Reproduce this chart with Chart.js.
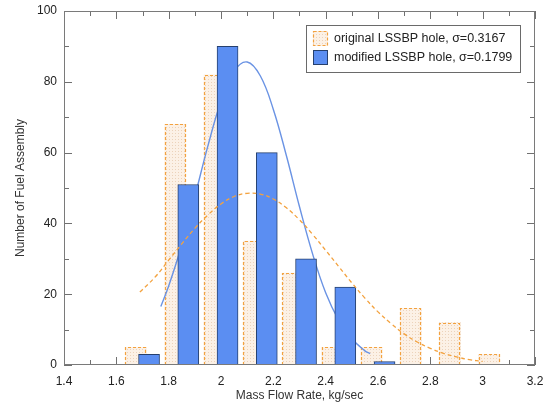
<!DOCTYPE html>
<html><head><meta charset="utf-8">
<script src="https://cdn.jsdelivr.net/npm/chart.js@4.4.1/dist/chart.umd.min.js"></script>
<style>html,body{margin:0;padding:0;background:#fff}#wrap{width:548px;height:405px}</style>
</head><body><div id="wrap"><canvas id="c" width="548" height="405"></canvas></div>
<script>
// ---- data ----
const originalCenters = [1.675, 1.825, 1.975, 2.125, 2.275, 2.425, 2.575, 2.725, 2.875, 3.025];
const originalCounts  = [5, 68, 82, 35, 26, 5, 5, 16, 12, 3];
const modifiedCenters = [1.725, 1.875, 2.025, 2.175, 2.325, 2.475, 2.625];
const modifiedCounts  = [3, 51, 90, 60, 30, 22, 1];
const originalFitX = [1.69, 1.75, 1.80, 1.85, 1.90, 1.95, 2.00, 2.05, 2.10, 2.15, 2.20, 2.25, 2.30, 2.35, 2.40, 2.45, 2.50, 2.55, 2.60, 2.65, 2.70, 2.75, 2.80, 2.85, 2.90, 2.95, 3.00];
const originalFitY = [20.6, 25.0, 29.6, 34.2, 38.6, 42.4, 45.5, 47.6, 48.5, 48.3, 46.9, 44.4, 41.0, 36.9, 32.4, 27.8, 23.2, 18.9, 15.0, 11.7, 8.8, 6.5, 4.7, 3.3, 2.3, 1.5, 1.0];
const modifiedFitX = [1.77, 1.80, 1.85, 1.90, 1.95, 2.00, 2.05, 2.10, 2.15, 2.20, 2.25, 2.30, 2.35, 2.40, 2.45, 2.50, 2.55, 2.57];
const modifiedFitY = [16.5, 22.3, 33.9, 47.6, 61.9, 74.5, 83.0, 85.6, 81.7, 72.2, 59.1, 44.7, 31.4, 20.4, 12.6, 7.4, 4.0, 3.2];
const seriesLabels = ['original LSSBP hole, \u03c3=0.3167', 'modified LSSBP hole, \u03c3=0.1799'];
const xTitle = 'Mass Flow Rate, kg/sec';
const yTitle = 'Number of Fuel Assembly';
const xRange = [1.4, 3.2];
const yRange = [0, 100];

const FONT = '"Liberation Sans", Arial, sans-serif';
const ORANGE = '#f3a23f';
const BLUE_FILL = '#5b8ef2';
const BLUE_EDGE = '#26406e';
const BLUE_LINE = '#6a93e4';

const canvas = document.getElementById('c');
const ctx0 = canvas.getContext('2d');
function dotPattern() {
  const c = document.createElement('canvas'); c.width = 3; c.height = 3;
  const g = c.getContext('2d');
  g.fillStyle = '#fcf1e6'; g.fillRect(0, 0, 3, 3);
  g.fillStyle = '#ecd3bb'; g.fillRect(1, 1, 1, 1);
  return ctx0.createPattern(c, 'repeat');
}
const peach = dotPattern();

const pts = (xs, ys) => xs.map((x, i) => ({x: x, y: ys[i]}));

const dashedBars = {
  id: 'dashedBars',
  afterDatasetDraw(chart, args) {
    if (args.index !== 0) return;
    const ctx = chart.ctx;
    ctx.save();
    ctx.strokeStyle = ORANGE; ctx.lineWidth = 1.2; ctx.setLineDash([3, 2]);
    args.meta.data.forEach(el => {
      const p = el.getProps(['x', 'y', 'base', 'width'], true);
      const l = Math.round(p.x - p.width / 2) + 0.5, r = Math.round(p.x + p.width / 2) - 0.5;
      const t = Math.round(p.y) + 0.5, b = p.base;
      ctx.beginPath(); ctx.moveTo(l, b); ctx.lineTo(l, t); ctx.lineTo(r, t); ctx.lineTo(r, b); ctx.stroke();
    });
    ctx.restore();
  }
};

const frameTicks = {
  id: 'frameTicks',
  beforeDatasetsDraw(chart) {
    const {ctx, chartArea: a, scales: {x, y}} = chart;
    ctx.save();
    ctx.strokeStyle = '#707070'; ctx.lineWidth = 1;
    ctx.beginPath();
    x.ticks.forEach(t => {
      const px = Math.round(x.getPixelForValue(t.value)) + 0.5;
      const len = Math.round(t.value * 10) % 2 === 0 ? 8 : 5;
      ctx.moveTo(px, a.bottom); ctx.lineTo(px, a.bottom - len);
      ctx.moveTo(px, a.top); ctx.lineTo(px, a.top + len);
    });
    y.ticks.forEach(t => {
      const py = Math.round(y.getPixelForValue(t.value)) + 0.5;
      const len = Math.round(t.value) % 20 === 0 ? 8 : 5;
      ctx.moveTo(a.left, py); ctx.lineTo(a.left + len, py);
      ctx.moveTo(a.right, py); ctx.lineTo(a.right - len, py);
    });
    ctx.stroke();
    ctx.restore();
  },
  afterDatasetsDraw(chart) {
    const {ctx, chartArea: a} = chart;
    ctx.save();
    ctx.strokeStyle = '#7a7a7a'; ctx.lineWidth = 1;
    ctx.strokeRect(Math.round(a.left) + 0.5, Math.round(a.top) + 0.5,
                   Math.round(a.right - a.left) - 1, Math.round(a.bottom - a.top) - 1);
    // legend box
    const bx = 306.5, by = 25.5, bw = 214, bh = 47;
    ctx.fillStyle = '#ffffff'; ctx.fillRect(bx, by, bw, bh);
    ctx.strokeStyle = '#6a6a6a'; ctx.strokeRect(bx, by, bw, bh);
    // swatch 1
    ctx.fillStyle = peach; ctx.fillRect(313, 31, 15, 15);
    ctx.strokeStyle = ORANGE; ctx.lineWidth = 1.2; ctx.setLineDash([3, 2]);
    ctx.strokeRect(313.5, 31.5, 14, 14);
    ctx.setLineDash([]);
    // swatch 2
    ctx.fillStyle = BLUE_FILL; ctx.fillRect(313, 50, 15, 15);
    ctx.strokeStyle = BLUE_EDGE; ctx.lineWidth = 1; ctx.strokeRect(313.5, 50.5, 14, 14);
    ctx.fillStyle = '#222'; ctx.font = '12.5px ' + FONT; ctx.textBaseline = 'middle'; ctx.textAlign = 'left';
    ctx.fillText(chart.data.datasets[0].label, 334, 39);
    ctx.fillText(chart.data.datasets[1].label, 334, 58);
    ctx.restore();
  }
};

new Chart(canvas, {
  type: 'bar',
  data: {
    datasets: [
      {label: seriesLabels[0], data: pts(originalCenters, originalCounts), backgroundColor: peach,
       borderWidth: 0, barThickness: 21, grouped: false, order: 4},
      {label: seriesLabels[1], data: pts(modifiedCenters, modifiedCounts), backgroundColor: BLUE_FILL,
       borderColor: BLUE_EDGE, borderWidth: 1, borderSkipped: 'bottom', barThickness: 21, grouped: false, order: 2},
      {type: 'line', label: 'modified fit', data: pts(modifiedFitX, modifiedFitY), borderColor: BLUE_LINE,
       borderWidth: 1.4, pointRadius: 0, tension: 0.4, fill: false, order: 3},
      {type: 'line', label: 'original fit', data: pts(originalFitX, originalFitY), borderColor: ORANGE,
       borderWidth: 1.3, borderDash: [4, 3], pointRadius: 0, tension: 0.4, fill: false, order: 1}
    ]
  },
  options: {
    responsive: false, devicePixelRatio: 1, animation: false,
    layout: {padding: {left: 0, right: 13, top: 11, bottom: 0}},
    plugins: {legend: {display: false}, tooltip: {enabled: false}},
    scales: {
      x: {
        type: 'linear', min: xRange[0], max: xRange[1], offset: false,
        grid: {display: false, drawTicks: false}, border: {display: false},
        ticks: {stepSize: 0.1, autoSkip: false, maxRotation: 0, padding: 9, color: '#222',
                font: {family: FONT, size: 12},
                callback: v => { const r = Math.round(v * 10); return r % 2 === 0 ? String(r / 10) : ''; }},
        title: {display: true, text: xTitle, color: '#333', font: {family: FONT, size: 12}, padding: {top: 0, bottom: 2}},
        afterFit: s => { s.height = 40; s.paddingLeft = 0; s.paddingRight = 0; }
      },
      y: {
        type: 'linear', min: yRange[0], max: yRange[1],
        grid: {display: false, drawTicks: false}, border: {display: false},
        ticks: {stepSize: 10, autoSkip: false, padding: 7, color: '#222',
                font: {family: FONT, size: 12},
                callback: v => (Math.round(v) % 20 === 0 ? String(Math.round(v)) : '')},
        title: {display: true, text: yTitle, color: '#333', font: {family: FONT, size: 12}, padding: {top: 13, bottom: 0}},
        afterFit: s => { s.width = 64; s.paddingTop = 0; s.paddingBottom = 0; }
      }
    }
  },
  plugins: [dashedBars, frameTicks]
});
</script>
</body></html>
